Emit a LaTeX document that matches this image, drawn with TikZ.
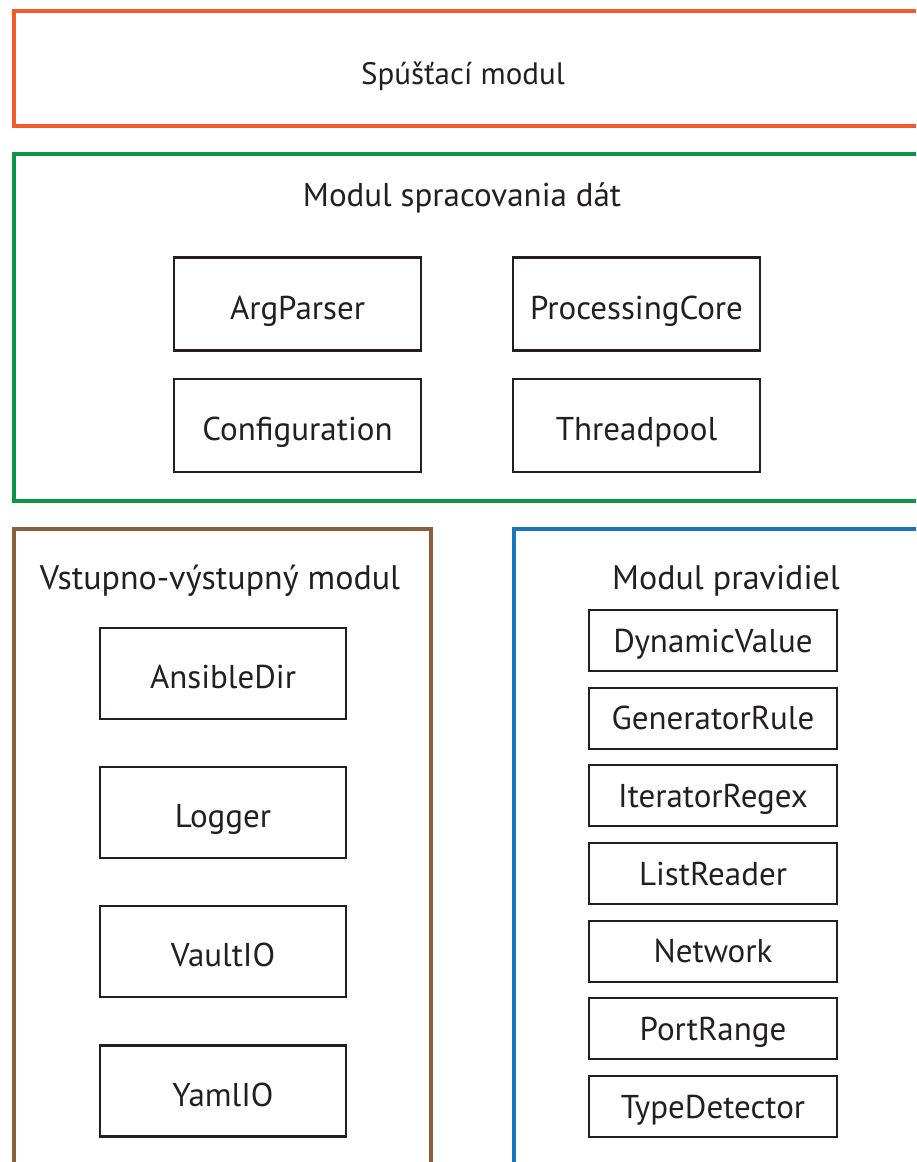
\documentclass[tikz,border=0pt]{standalone}
\usepackage{fontspec}
\setmainfont{PT Sans}
\definecolor{runorange}{HTML}{F15A29}
\definecolor{procgreen}{HTML}{0E9447}
\definecolor{iobrown}{HTML}{8B5E3C}
\definecolor{ruleblue}{HTML}{1B75BC}
\definecolor{ink}{HTML}{231F20}
\tikzset{
  frame/.style={draw, line width=4pt, inner sep=0pt, anchor=north west},
  cls/.style={draw=ink, line width=2.2pt, inner sep=0pt, font=\fontsize{33}{35}\selectfont,
    text=ink, text height=30pt, text depth=0pt, minimum width=247pt},
  bigcls/.style={cls, minimum height=93pt},
  smallcls/.style={cls, minimum height=61pt, text height=23pt},
  title/.style={inner sep=0pt, font=\fontsize{33}{35}\selectfont, text=ink,
    text height=22pt, text depth=0pt}
}
\begin{document}
\begin{tikzpicture}[x=1pt, y=-1pt]
\useasboundingbox (0,0) rectangle (916,1162);
\clip (0,0) rectangle (916,1162);

% module frames (they run off the right and bottom edges)
\node[frame, draw=runorange, minimum width=918pt, minimum height=115pt] (run) at (12,9) {};
\node[frame, draw=procgreen, minimum width=918pt, minimum height=347pt] (proc) at (12,152) {};
\node[frame, draw=iobrown, minimum width=417pt, minimum height=660pt] (io) at (12,527) {};
\node[frame, draw=ruleblue, minimum width=418pt, minimum height=660pt] (rules) at (512,527) {};

% module titles
\node[title, font=\fontsize{31}{33}\selectfont] (runT) at (463,73) {Spúšťací modul};
\node[title] (procT) at (462,195) {Modul spracovania dát};
\node[title, font=\fontsize{34}{36}\selectfont] (ioT) at (220,578) {Vstupno-výstupný modul};
\node[title, font=\fontsize{34}{36}\selectfont] (rulesT) at (726,578) {Modul pravidiel};

% data processing module
\node[bigcls] (argparser) at (297.5,304) {ArgParser};
\node[bigcls] (config) at (297.5,425.5) {Configuration};
\node[bigcls] (core) at (636.5,304) {ProcessingCore};
\node[bigcls] (pool) at (636.5,425.5) {Threadpool};

% input/output module
\node[bigcls, minimum width=246pt, minimum height=91pt] (ansible) at (223,673.5) {AnsibleDir};
\node[bigcls, minimum width=246pt, minimum height=91pt] (logger) at (223,812.5) {Logger};
\node[bigcls, minimum width=246pt, minimum height=91pt] (vault) at (223,951.5) {VaultIO};
\node[bigcls, minimum width=246pt, minimum height=91pt] (yaml) at (223,1091) {YamlIO};

% rules module
\node[smallcls, minimum width=248pt] (dyn) at (713,640.5) {DynamicValue};
\node[smallcls, minimum width=248pt] (gen) at (713,718.2) {GeneratorRule};
\node[smallcls, minimum width=248pt] (iter) at (713,795.8) {IteratorRegex};
\node[smallcls, minimum width=248pt] (list) at (713,873.5) {ListReader};
\node[smallcls, minimum width=248pt] (net) at (713,951.2) {Network};
\node[smallcls, minimum width=248pt] (port) at (713,1028.8) {PortRange};
\node[smallcls, minimum width=248pt] (type) at (713,1106.5) {TypeDetector};
\end{tikzpicture}
\end{document}
